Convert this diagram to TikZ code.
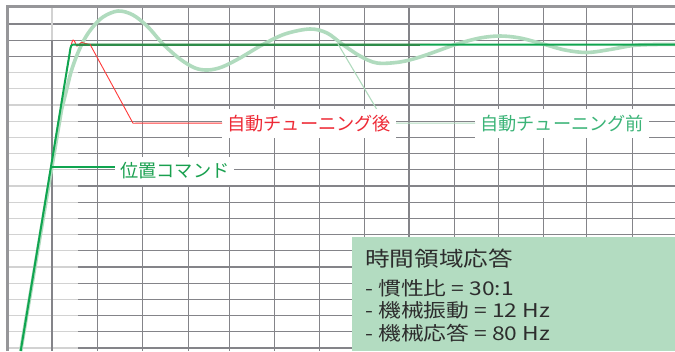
\documentclass[tikz,border=0pt]{standalone}
\usepackage{fontspec}
\newfontfamily\jpfont{Noto Sans CJK JP}
\newfontfamily\boxfont[FakeStretch=1.2]{Noto Sans CJK JP}
\definecolor{gridgray}{RGB}{132,132,137}
\definecolor{framegray}{RGB}{150,150,153}
\definecolor{lightgrid}{RGB}{210,210,210}
\definecolor{cmdgreen}{RGB}{16,165,80}
\definecolor{steadygreen}{RGB}{47,140,74}
\definecolor{redc}{RGB}{255,58,58}
\definecolor{redtext}{RGB}{238,42,54}
\definecolor{beforeline}{RGB}{176,219,190}
\definecolor{beforetext}{RGB}{60,180,120}
\definecolor{cmdtext}{RGB}{25,160,79}
\definecolor{boxfill}{RGB}{179,220,193}
\definecolor{boxtext}{RGB}{45,45,45}
\tikzset{
  gridline/.style={draw=gridgray,line width=1.2pt},
  lightline/.style={draw=lightgrid,line width=1.2pt},
  framel/.style={draw=framegray,line width=2.6pt},
  labelbox/.style={fill=white,inner xsep=5pt,inner ysep=6pt,anchor=base west,font=\jpfont\fontsize{18.2}{20}\selectfont},
  boxtxt/.style={anchor=base west,inner sep=0pt,text=boxtext},
}
\begin{document}
\begin{tikzpicture}[x=1pt,y=-1pt]
\useasboundingbox (0,0) rectangle (675,351);
\fill[white] (0,0) rectangle (675,351);
% horizontal grid
\foreach \k in {0,1,2}{
  \draw[gridline] (8,24+16.2*\k) -- (675,24+16.2*\k);
}
\foreach \k in {3,...,20}{
  \draw[lightline] (8,24+16.2*\k) -- (78,24+16.2*\k);
  \draw[gridline] (78,24+16.2*\k) -- (675,24+16.2*\k);
}
% vertical grid
\draw[lightline] (52,7) -- (52,40);
\draw[draw=gridgray,line width=2pt] (52,40) -- (52,351);
\foreach \x in {97.3,142.7,188.3,229.3,274.3,319.3,364.3,409,454.3,498.7,543.3,586.7,632.7}{
  \draw[gridline] (\x,7) -- (\x,351);
}
% frame
\draw[framel] (7.5,351) -- (7.5,6.3) -- (675,6.3);
% before tuning response
\draw[beforeline,line width=3.6pt,line join=round]
  (20.7,351) -- (61.5,110)
  plot[smooth,tension=0.55] coordinates {(61.5,110) (66.5,90) (71,72) (77,55) (84,40) (92,28) (103,17) (118,11) (133,15) (148,27) (163,44) (180,59) (195,68) (208,70) (222,67) (240,58) (262,45) (285,34) (310,29) (327,33) (342,44) (360,56) (377,63) (400,62) (420,57) (440,50) (457,44) (480,38) (500,36) (520,38) (543,44) (565,50) (587,52.5) (610,49.5) (633,45.5) (655,44.5) (675,44.3)};
% after tuning response
\draw[redc,line width=1pt,line join=round]
  (66,75) -- (69.5,55)
  plot[smooth,tension=0.5] coordinates {(69.5,55) (71.5,44) (73,40) (74.5,41) (76.5,46) (78.5,45) (81.5,42.5) (85,43.5) (90,44.3)}
  -- (430,44.3);
% position command
\draw[cmdgreen,line width=2pt,line join=round]
  (20.7,351) -- (70.5,48) .. controls (71.5,44.5) .. (76,44.5) -- (675,44.5);
\draw[steadygreen,line width=2pt] (76,44.5) -- (420,44.5);
% leader anchor coordinates
\coordinate (rp) at (90,44.3);
\coordinate (rk) at (133,123.2);
\coordinate (gp) at (338,44);
\coordinate (gk) at (385,123.2);
\coordinate (cp) at (51.7,166.7);
% green (before) leader, drawn under the red label
\node[labelbox,text=beforetext] (before) at (475,130) {自動チューニング前};
\draw[beforeline,line width=1.1pt] (gp) -- (gk) -- (before.west);
% red (after) label and leader
\node[labelbox,text=redtext] (after) at (222,130) {自動チューニング後};
\draw[redc,line width=0.9pt] (rp) -- (rk) -- (after.west);
% command label
\node[labelbox,text=cmdtext] (cmd) at (115,177.8) {位置コマンド};
\draw[cmdgreen,line width=1.6pt] (cp) -- (cp -| cmd.west);
% info box
\fill[boxfill] (352,237) rectangle (675,351);
\node[boxtxt,font=\boxfont\fontsize{20.5}{22}\selectfont] (title) at (365,266.5) {時間領域応答};
\node[boxtxt,font=\boxfont\fontsize{19}{21}\selectfont] (l1) at (365,295) {- 慣性比 = 30:1};
\node[boxtxt,font=\boxfont\fontsize{19}{21}\selectfont] (l2) at (365,317.8) {- 機械振動 = 12 Hz};
\node[boxtxt,font=\boxfont\fontsize{19}{21}\selectfont] (l3) at (365,340) {- 機械応答 = 80 Hz};
\end{tikzpicture}
\end{document}
